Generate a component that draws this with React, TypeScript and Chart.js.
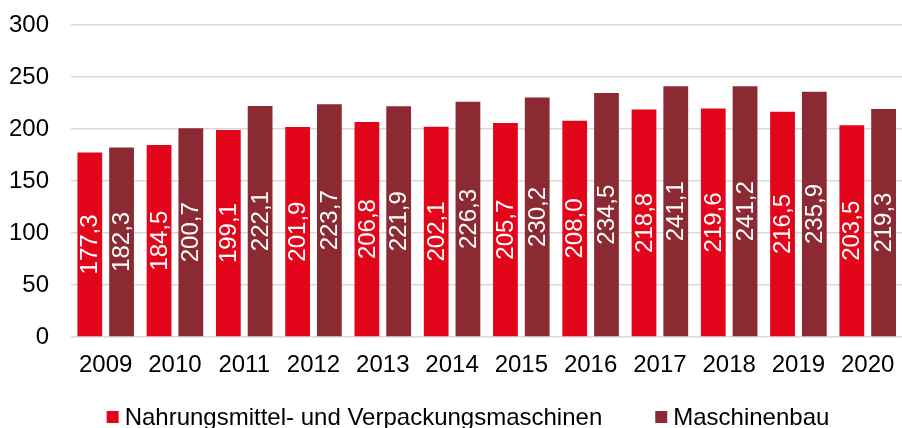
import React, { useEffect, useRef } from "react";
import { Chart, registerables } from "chart.js";

Chart.register(...registerables);

const years = ["2009", "2010", "2011", "2012", "2013", "2014", "2015", "2016", "2017", "2018", "2019", "2020"];
const nahrungValues = [177.3, 184.5, 199.1, 201.9, 206.8, 202.1, 205.7, 208.0, 218.8, 219.6, 216.5, 203.5];
const maschinenbauValues = [182.3, 200.7, 222.1, 223.7, 221.9, 226.3, 230.2, 234.5, 241.1, 241.2, 235.9, 219.3];
const seriesNames = ["Nahrungsmittel- und Verpackungsmaschinen", "Maschinenbau"];
const seriesColors = ["#E3061B", "#8B2A33"];
const yTicks = [0, 50, 100, 150, 200, 250, 300];

const FONT = "'Liberation Sans', Arial, sans-serif";

const fmt = (v: number) => v.toFixed(1).replace(".", ",");

const barLabelPlugin = {
  id: "barLabels",
  afterDatasetsDraw(chart: any) {
    const ctx = chart.ctx;
    ctx.save();
    ctx.fillStyle = "#ffffff";
    ctx.font = `24px ${FONT}`;
    ctx.textAlign = "center";
    ctx.textBaseline = "middle";
    chart.data.datasets.forEach((ds: any, di: number) => {
      const meta = chart.getDatasetMeta(di);
      meta.data.forEach((bar: any, i: number) => {
        const cy = (bar.y + bar.base) / 2;
        ctx.save();
        ctx.translate(bar.x, cy);
        ctx.rotate(-Math.PI / 2);
        ctx.fillText(fmt(ds.data[i]), 0, 1);
        ctx.restore();
      });
    });
    ctx.restore();
  },
};

const legendPlugin = {
  id: "customLegend",
  afterDraw(chart: any) {
    const ctx = chart.ctx;
    ctx.save();
    ctx.font = `24px ${FONT}`;
    ctx.textBaseline = "middle";
    ctx.textAlign = "left";
    const box = 12;
    const gapBoxText = 6;
    const gapItems = 53;
    const widths = seriesNames.map((n) => ctx.measureText(n).width);
    const total = widths.reduce((a, w) => a + box + gapBoxText + w, 0) + gapItems * (seriesNames.length - 1);
    let x = 468 - total / 2;
    const cy = 417;
    seriesNames.forEach((n, i) => {
      ctx.fillStyle = seriesColors[i];
      ctx.fillRect(x, cy - box / 2, box, box);
      ctx.fillStyle = "#000000";
      ctx.fillText(n, x + box + gapBoxText, cy + 1);
      x += box + gapBoxText + widths[i] + gapItems;
    });
    ctx.restore();
  },
};

export default function App() {
  const canvasRef = useRef<HTMLCanvasElement | null>(null);

  useEffect(() => {
    if (!canvasRef.current) return;
    const chart = new Chart(canvasRef.current, {
      type: "bar",
      data: {
        labels: years,
        datasets: [
          {
            label: seriesNames[0],
            data: nahrungValues,
            backgroundColor: seriesColors[0],
            categoryPercentage: 0.917,
            barPercentage: 0.78,
          },
          {
            label: seriesNames[1],
            data: maschinenbauValues,
            backgroundColor: seriesColors[1],
            categoryPercentage: 0.917,
            barPercentage: 0.78,
          },
        ],
      },
      options: {
        responsive: false,
        animation: false,
        devicePixelRatio: 1,
        layout: { padding: { left: -13, right: 0, top: 25, bottom: 35 } },
        plugins: {
          legend: { display: false },
          tooltip: { enabled: false },
        },
        scales: {
          x: {
            grid: { display: false, drawTicks: false },
            border: { display: false },
            ticks: {
              color: "#000000",
              font: { family: FONT, size: 24 },
              padding: 13.6,
              maxRotation: 0,
              autoSkip: false,
            },
          },
          y: {
            min: 0,
            max: 300,
            afterBuildTicks: (axis: any) => {
              axis.ticks = yTicks.map((v) => ({ value: v }));
            },
            grid: { color: "#D9D9D9", lineWidth: 1.5, drawTicks: false },
            border: { display: false },
            ticks: {
              color: "#000000",
              font: { family: FONT, size: 24, lineHeight: 0.1 },
              padding: 22,
            },
          },
        },
      },
      plugins: [barLabelPlugin, legendPlugin],
    });
    return () => chart.destroy();
  }, []);

  return (
    <div style={{ position: "fixed", left: 0, top: 0, width: 908, height: 428, background: "#ffffff" }}>
      <canvas ref={canvasRef} width={908} height={428} />
    </div>
  );
}
